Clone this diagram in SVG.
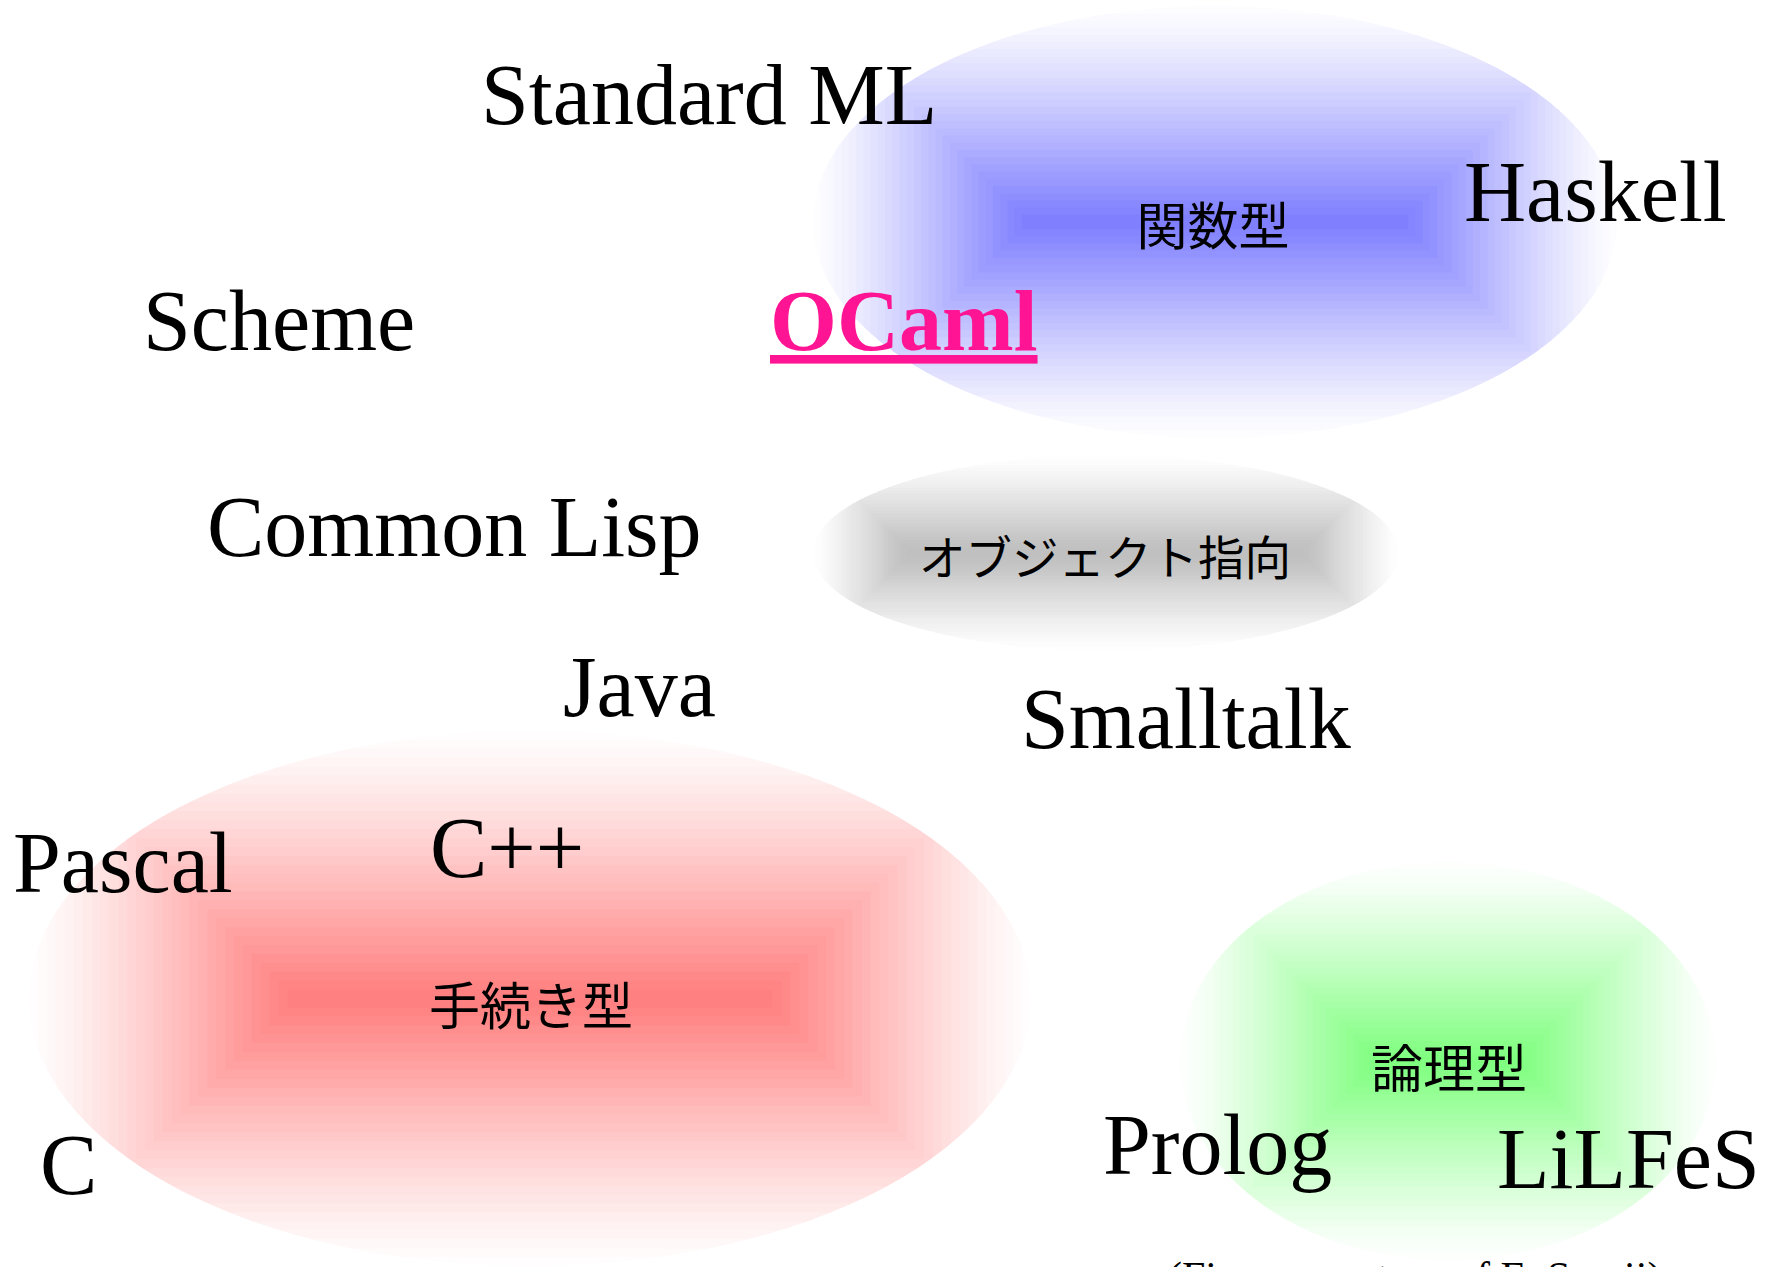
<svg xmlns="http://www.w3.org/2000/svg" width="1770" height="1267" viewBox="0 0 1770 1267">
<style>
.lang{font-family:"Liberation Serif","Times New Roman",serif;font-size:86px;fill:#000}
.ocaml{font-weight:bold;fill:#ff1493;text-decoration:underline}
.caption{font-size:42px}
.cat{font-family:"Noto Sans CJK JP","Noto Sans",sans-serif;font-size:51px;text-anchor:middle;dominant-baseline:central;fill:#000}
.band{fill:none;stroke-linecap:square}
/* rectangular path gradient: nested square-capped strokes, widths in units of the ellipse's half height;
   opacities stack to a colour ramp that deepens towards the centre line */
.k1{stroke-width:2;stroke-opacity:.0142}
.k2{stroke-width:1.9333;stroke-opacity:.0199}
.k3{stroke-width:1.8667;stroke-opacity:.0231}
.k4{stroke-width:1.8;stroke-opacity:.0258}
.k5{stroke-width:1.7333;stroke-opacity:.0282}
.k6{stroke-width:1.6667;stroke-opacity:.0305}
.k7{stroke-width:1.6;stroke-opacity:.0328}
.k8{stroke-width:1.5333;stroke-opacity:.0352}
.k9{stroke-width:1.4667;stroke-opacity:.0376}
.k10{stroke-width:1.4;stroke-opacity:.0402}
.k11{stroke-width:1.3333;stroke-opacity:.0429}
.k12{stroke-width:1.2667;stroke-opacity:.0459}
.k13{stroke-width:1.2;stroke-opacity:.049}
.k14{stroke-width:1.1333;stroke-opacity:.0527}
.k15{stroke-width:1.0667;stroke-opacity:.0566}
.k16{stroke-width:1;stroke-opacity:.061}
.k17{stroke-width:.9333;stroke-opacity:.0659}
.k18{stroke-width:.8667;stroke-opacity:.0716}
.k19{stroke-width:.8;stroke-opacity:.0783}
.k20{stroke-width:.7333;stroke-opacity:.086}
.k21{stroke-width:.6667;stroke-opacity:.0953}
.k22{stroke-width:.6;stroke-opacity:.1066}
.k23{stroke-width:.5333;stroke-opacity:.1206}
.k24{stroke-width:.4667;stroke-opacity:.1386}
.k25{stroke-width:.4;stroke-opacity:.1627}
.k26{stroke-width:.3333;stroke-opacity:.1966}
.k27{stroke-width:.2667;stroke-opacity:.2464}
.k28{stroke-width:.2;stroke-opacity:.3304}
.k29{stroke-width:.1333;stroke-opacity:.4986}
.k30{stroke-width:.0667;stroke-opacity:1}
</style>
<defs>
  <!-- centre lines of each region, in units of its half height -->
  <path id="lineFn" class="band" d="M-0.8611 0H0.8611"/>
  <path id="lineOo" class="band" d="M-1.9898 0H1.9898"/>
  <path id="lineProc" class="band" d="M-0.8731 0H0.8731"/>
  <path id="lineLogic" class="band" d="M-0.3467 0H0.3467"/>
  <clipPath id="clipFn"><ellipse cx="0" cy="0" rx="1.8611" ry="1"/></clipPath>
  <clipPath id="clipOo"><ellipse cx="0" cy="0" rx="2.9898" ry="1"/></clipPath>
  <clipPath id="clipProc"><ellipse cx="0" cy="0" rx="1.8731" ry="1"/></clipPath>
  <clipPath id="clipLogic"><ellipse cx="0" cy="0" rx="1.3467" ry="1"/></clipPath>
</defs>

<!-- functional region -->
<g id="functional">
  <g transform="translate(1215 222) scale(216)">
    <g clip-path="url(#clipFn)" stroke="#8080ff">
      <use href="#lineFn" class="k1"/><use href="#lineFn" class="k2"/><use href="#lineFn" class="k3"/><use href="#lineFn" class="k4"/><use href="#lineFn" class="k5"/>
      <use href="#lineFn" class="k6"/><use href="#lineFn" class="k7"/><use href="#lineFn" class="k8"/><use href="#lineFn" class="k9"/><use href="#lineFn" class="k10"/>
      <use href="#lineFn" class="k11"/><use href="#lineFn" class="k12"/><use href="#lineFn" class="k13"/><use href="#lineFn" class="k14"/><use href="#lineFn" class="k15"/>
      <use href="#lineFn" class="k16"/><use href="#lineFn" class="k17"/><use href="#lineFn" class="k18"/><use href="#lineFn" class="k19"/><use href="#lineFn" class="k20"/>
      <use href="#lineFn" class="k21"/><use href="#lineFn" class="k22"/><use href="#lineFn" class="k23"/><use href="#lineFn" class="k24"/><use href="#lineFn" class="k25"/>
      <use href="#lineFn" class="k26"/><use href="#lineFn" class="k27"/><use href="#lineFn" class="k28"/><use href="#lineFn" class="k29"/><use href="#lineFn" class="k30"/>
    </g>
  </g>
  <text class="cat" x="1213" y="223">関数型</text>
</g>

<!-- object-oriented region -->
<g id="object-oriented">
  <g transform="translate(1106 553) scale(98)">
    <g clip-path="url(#clipOo)" stroke="#c0c0c0">
      <use href="#lineOo" class="k1"/><use href="#lineOo" class="k2"/><use href="#lineOo" class="k3"/><use href="#lineOo" class="k4"/><use href="#lineOo" class="k5"/>
      <use href="#lineOo" class="k6"/><use href="#lineOo" class="k7"/><use href="#lineOo" class="k8"/><use href="#lineOo" class="k9"/><use href="#lineOo" class="k10"/>
      <use href="#lineOo" class="k11"/><use href="#lineOo" class="k12"/><use href="#lineOo" class="k13"/><use href="#lineOo" class="k14"/><use href="#lineOo" class="k15"/>
      <use href="#lineOo" class="k16"/><use href="#lineOo" class="k17"/><use href="#lineOo" class="k18"/><use href="#lineOo" class="k19"/><use href="#lineOo" class="k20"/>
      <use href="#lineOo" class="k21"/><use href="#lineOo" class="k22"/><use href="#lineOo" class="k23"/><use href="#lineOo" class="k24"/><use href="#lineOo" class="k25"/>
      <use href="#lineOo" class="k26"/><use href="#lineOo" class="k27"/><use href="#lineOo" class="k28"/><use href="#lineOo" class="k29"/><use href="#lineOo" class="k30"/>
    </g>
  </g>
  <text class="cat" x="1105" y="554" style="font-size:46.5px">オブジェクト指向</text>
</g>

<!-- procedural region -->
<g id="procedural">
  <g transform="translate(530 998.5) scale(267.5)">
    <g clip-path="url(#clipProc)" stroke="#ff8080">
      <use href="#lineProc" class="k1"/><use href="#lineProc" class="k2"/><use href="#lineProc" class="k3"/><use href="#lineProc" class="k4"/><use href="#lineProc" class="k5"/>
      <use href="#lineProc" class="k6"/><use href="#lineProc" class="k7"/><use href="#lineProc" class="k8"/><use href="#lineProc" class="k9"/><use href="#lineProc" class="k10"/>
      <use href="#lineProc" class="k11"/><use href="#lineProc" class="k12"/><use href="#lineProc" class="k13"/><use href="#lineProc" class="k14"/><use href="#lineProc" class="k15"/>
      <use href="#lineProc" class="k16"/><use href="#lineProc" class="k17"/><use href="#lineProc" class="k18"/><use href="#lineProc" class="k19"/><use href="#lineProc" class="k20"/>
      <use href="#lineProc" class="k21"/><use href="#lineProc" class="k22"/><use href="#lineProc" class="k23"/><use href="#lineProc" class="k24"/><use href="#lineProc" class="k25"/>
      <use href="#lineProc" class="k26"/><use href="#lineProc" class="k27"/><use href="#lineProc" class="k28"/><use href="#lineProc" class="k29"/><use href="#lineProc" class="k30"/>
    </g>
  </g>
  <text class="cat" x="531" y="1003">手続き型</text>
</g>

<!-- logic region -->
<g id="logic">
  <g transform="translate(1448 1061) scale(199)">
    <g clip-path="url(#clipLogic)" stroke="#80ff80">
      <use href="#lineLogic" class="k1"/><use href="#lineLogic" class="k2"/><use href="#lineLogic" class="k3"/><use href="#lineLogic" class="k4"/><use href="#lineLogic" class="k5"/>
      <use href="#lineLogic" class="k6"/><use href="#lineLogic" class="k7"/><use href="#lineLogic" class="k8"/><use href="#lineLogic" class="k9"/><use href="#lineLogic" class="k10"/>
      <use href="#lineLogic" class="k11"/><use href="#lineLogic" class="k12"/><use href="#lineLogic" class="k13"/><use href="#lineLogic" class="k14"/><use href="#lineLogic" class="k15"/>
      <use href="#lineLogic" class="k16"/><use href="#lineLogic" class="k17"/><use href="#lineLogic" class="k18"/><use href="#lineLogic" class="k19"/><use href="#lineLogic" class="k20"/>
      <use href="#lineLogic" class="k21"/><use href="#lineLogic" class="k22"/><use href="#lineLogic" class="k23"/><use href="#lineLogic" class="k24"/><use href="#lineLogic" class="k25"/>
      <use href="#lineLogic" class="k26"/><use href="#lineLogic" class="k27"/><use href="#lineLogic" class="k28"/><use href="#lineLogic" class="k29"/><use href="#lineLogic" class="k30"/>
    </g>
  </g>
  <text class="cat" x="1449" y="1065" style="font-size:52px">論理型</text>
</g>

<!-- languages -->
<g id="standard-ml"><text class="lang" x="481" y="124">Standard ML</text></g>
<g id="haskell"><text class="lang" x="1464" y="221">Haskell</text></g>
<g id="scheme"><text class="lang" x="143" y="350">Scheme</text></g>
<g id="ocaml"><text class="lang ocaml" x="770" y="350">OCaml</text></g>
<g id="common-lisp"><text class="lang" x="207" y="556">Common Lisp</text></g>
<g id="java"><text class="lang" x="563" y="716">Java</text></g>
<g id="smalltalk"><text class="lang" x="1021" y="748">Smalltalk</text></g>
<g id="pascal"><text class="lang" x="13" y="892">Pascal</text></g>
<g id="cpp"><text class="lang" x="430" y="877">C++</text></g>
<g id="c"><text class="lang" x="40" y="1194">C</text></g>
<g id="prolog"><text class="lang" x="1103" y="1174">Prolog</text></g>
<g id="lilfes"><text class="lang" x="1497" y="1188">LiLFeS</text></g>
<text class="lang caption" x="1168" y="1291">(Figure courtesy of E. Sumii)</text>
</svg>
